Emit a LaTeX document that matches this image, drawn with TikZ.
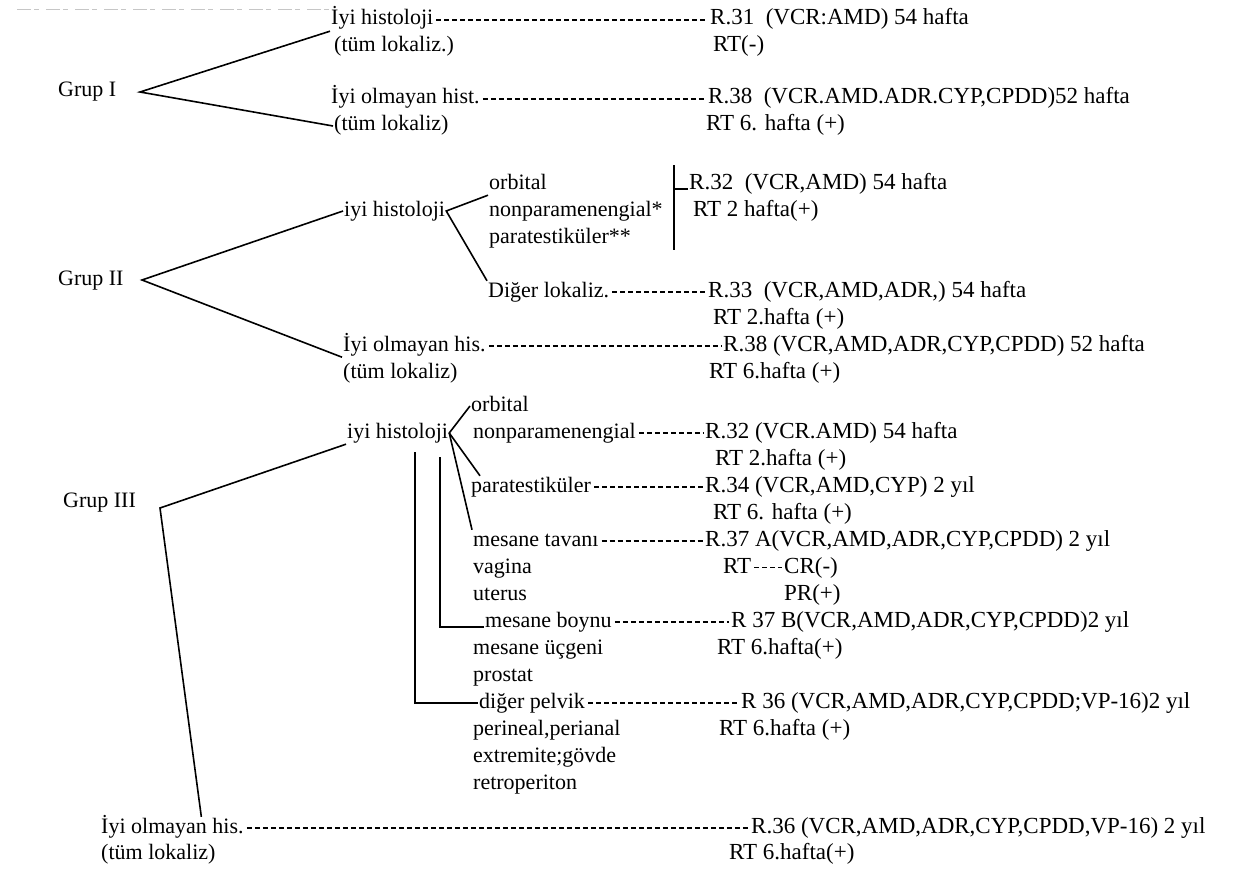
\documentclass[tikz,border=0pt]{standalone}
\usepackage{fontspec}
\setmainfont{Liberation Serif}
\usetikzlibrary{calc}

\tikzset{
  lbl/.style={anchor=base west, inner sep=1pt, font=\fontsize{22}{26}\selectfont,
    text height=15pt, text depth=5pt},
  kod/.style={lbl, font=\fontsize{23}{27}\selectfont, text height=16pt},
  dal/.style={line width=1.6pt},
  leader/.style={line width=1.3pt, dash pattern=on 5pt off 3pt, shorten <=2pt, shorten >=1pt},
}

\begin{document}
\begin{tikzpicture}[x=1pt,y=-1pt]
    \useasboundingbox (0,0) rectangle (1244,872);
    % scan trace at the top
    \draw[gray!45, line width=0.8pt, dash pattern=on 14pt off 3pt on 5pt off 7pt] (17,9) -- (333,9);

    % Grup I
    \node[lbl] (gI) at (57,97) {Grup I};
    \coordinate (vI) at (140,92);
    \node[lbl] (i1a) at (330,25) {İyi histoloji};
    \node[lbl] (i1b) at (333,52) {(tüm lokaliz.)};
    \node[lbl] (i1c) at (330,104) {İyi olmayan hist.};
    \node[lbl] (i1d) at (333,131) {(tüm lokaliz)};
    \node[kod] (r31) at (709,25) {R.31\ \ (VCR:AMD) 54 hafta};
    \node[kod] (rt31) at (712,52) {RT(-)};
    \node[kod] (r38a) at (707,104) {R.38\ \ (VCR.AMD.ADR.CYP,CPDD)52 hafta};
    \node[kod] (rt38a) at (705,131) {RT 6. hafta (+)};
    \draw[dal] (i1a.south west) -- (vI) -- (i1d.west);
    \draw[leader] (i1a.east) -- (i1a.east -| r31.west);
    \draw[leader] (i1c.east) -- (i1c.east -| r38a.west);

    % Grup II
    \node[lbl] (gII) at (57,285) {Grup II};
    \coordinate (vII) at (142,280);
    \node[lbl] (ii) at (343,216) {iyi histoloji};
    \node[lbl] (orb2) at (488,189) {orbital};
    \node[lbl] (np2) at (488,216) {nonparamenengial*};
    \node[lbl] (pt2) at (488,243) {paratestiküler**};
    \coordinate (bartop) at (674,165);
    \coordinate (barbot) at (674,250);
    \node[kod] (r32a) at (688,189) {R.32\ \ (VCR,AMD) 54 hafta};
    \node[kod] (rt32a) at (692,216) {RT 2 hafta(+)};
    \node[lbl] (diger) at (487,297) {Diğer lokaliz.};
    \node[kod] (r33) at (707,297) {R.33\ \ (VCR,AMD,ADR,) 54 hafta};
    \node[kod] (rt33) at (712,324) {RT 2.hafta (+)};
    \node[lbl] (io2) at (342,351) {İyi olmayan his.};
    \node[lbl] (tl2) at (342,378) {(tüm lokaliz)};
    \node[kod] (r38b) at (722,351) {R.38 (VCR,AMD,ADR,CYP,CPDD) 52 hafta};
    \node[kod] (rt38b) at (708,378) {RT 6.hafta (+)};
    \draw[dal] (ii.west) -- (vII) -- (io2.south west);
    \draw[dal] (orb2.south west) -- (ii.east) -- (diger.north west);
    \draw[dal] (bartop) -- (barbot);
    \draw[dal] (bartop |- r32a.base west) -- (r32a.base west);
    \draw[leader] (diger.east) -- (diger.east -| r33.west);
    \draw[leader] (io2.east) -- (io2.east -| r38b.west);

    % Grup III
    \node[lbl] (gIII) at (62,507) {Grup III};
    \coordinate (vIII) at (160,508);
    \node[lbl] (orb3) at (470,411) {orbital};
    \node[lbl] (iii) at (346,438) {iyi histoloji};
    \node[lbl] (np3) at (472,438) {nonparamenengial};
    \node[kod] (r32b) at (704,438) {R.32 (VCR.AMD) 54 hafta};
    \node[kod] (rt32b) at (714,465) {RT 2.hafta (+)};
    \node[lbl] (pt3) at (470,492) {paratestiküler};
    \node[kod] (r34) at (704,492) {R.34 (VCR,AMD,CYP) 2 yıl};
    \node[kod] (rt34) at (712,519) {RT 6. hafta (+)};
    \node[lbl] (tav) at (472,546) {mesane tavanı};
    \node[kod] (r37a) at (704,546) {R.37 A(VCR,AMD,ADR,CYP,CPDD) 2 yıl};
    \node[lbl] (vag) at (472,573) {vagina};
    \node[kod] (rtA) at (722,573) {RT};
    \node[kod] (crA) at (783,573) {CR(-)};
    \node[lbl] (ute) at (472,600) {uterus};
    \node[kod] (prA) at (783,600) {PR(+)};
    \node[lbl] (boy) at (484,627) {mesane boynu};
    \node[kod] (r37b) at (730,627) {R 37 B(VCR,AMD,ADR,CYP,CPDD)2 yıl};
    \node[lbl] (ucg) at (472,654) {mesane üçgeni};
    \node[kod] (rt37b) at (716,654) {RT 6.hafta(+)};
    \node[lbl] (pros) at (472,681) {prostat};
    \node[lbl] (dig) at (478,708) {diğer pelvik};
    \node[kod] (r36a) at (740,708) {R 36 (VCR,AMD,ADR,CYP,CPDD;VP-16)2 yıl};
    \node[lbl] (per) at (472,735) {perineal,perianal};
    \node[kod] (rt36a) at (718,735) {RT 6.hafta (+)};
    \node[lbl] (ext) at (472,762) {extremite;gövde};
    \node[lbl] (ret) at (472,789) {retroperiton};
    \node[lbl] (io3) at (100,833) {İyi olmayan his.};
    \node[lbl] (tl3) at (100,859) {(tüm lokaliz)};
    \node[kod] (r36b) at (750,833) {R.36 (VCR,AMD,ADR,CYP,CPDD,VP-16) 2 yıl};
    \node[kod] (rt36b) at (728,859) {RT 6.hafta(+)};
    \coordinate (barA) at (440,457);
    \coordinate (barB) at (415,452);
    \draw[dal] (iii.south west) -- (vIII) -- ($(io3.north west)!0.7!(io3.north east)$);
    \draw[dal] (orb3.west) -- (iii.east) -- ([xshift=10pt]pt3.north west);
    \draw[dal] (iii.east) -- (tav.north west);
    \draw[dal] (barA) |- (boy.base west);
    \draw[dal] (barB) |- (dig.west);
    \draw[leader] (np3.east) -- (np3.east -| r32b.west);
    \draw[leader] (pt3.east) -- (pt3.east -| r34.west);
    \draw[leader] (tav.east) -- (tav.east -| r37a.west);
    \draw[leader] (rtA.east) -- (rtA.east -| crA.west);
    \draw[leader] (boy.east) -- (boy.east -| r37b.west);
    \draw[leader] (dig.east) -- (dig.east -| r36a.west);
    \draw[leader] (io3.east) -- (io3.east -| r36b.west);
\end{tikzpicture}
\end{document}
